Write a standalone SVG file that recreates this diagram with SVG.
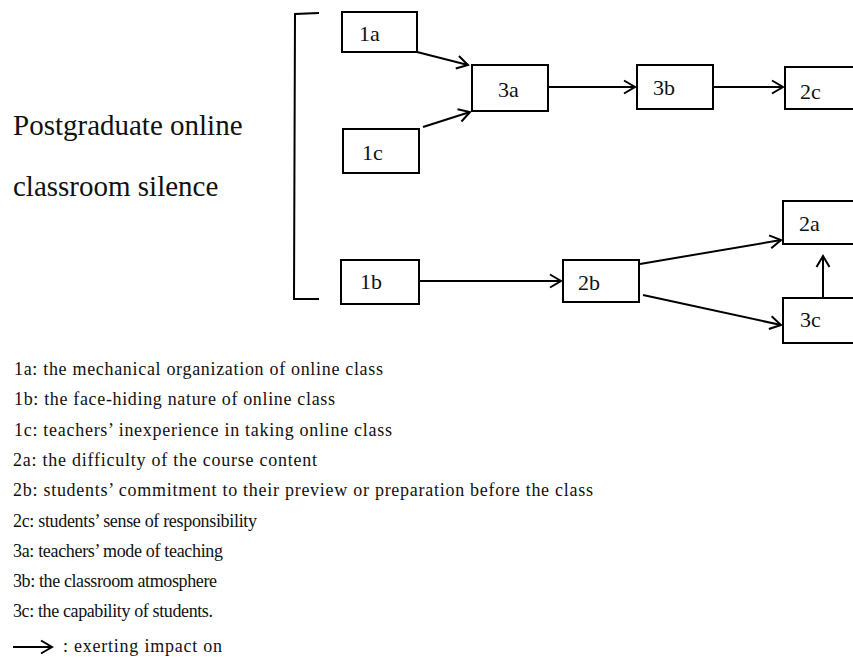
<svg xmlns="http://www.w3.org/2000/svg" width="853" height="658" viewBox="0 0 853 658">
<style>
.box{fill:#fff;stroke:#000;stroke-width:2}
.lbl{font-family:"Liberation Serif","Times New Roman",serif;font-size:22px;fill:#111}
.title{font-family:"Liberation Serif","Times New Roman",serif;font-size:29px;fill:#111}
.leg{font-family:"Liberation Serif","Times New Roman",serif;font-size:18px;fill:#111}
.con{stroke:#000;stroke-width:2;fill:none;marker-end:url(#ah)}
</style>
<defs>
<marker id="ah" markerUnits="userSpaceOnUse" markerWidth="16" markerHeight="16" viewBox="-12 -8 14 16" refX="0" refY="0" orient="auto">
<path d="M-11,-6.5 L0,0 L-11,6.5" fill="none" stroke="#000" stroke-width="2"/>
</marker>
</defs>
<rect width="853" height="658" fill="#fff"/>
<g id="title">
<text class="title" x="13" y="135">Postgraduate online</text>
<text class="title" x="13" y="196">classroom silence</text>
<path d="M319,13 L295,14 L294,299 L319,299" fill="none" stroke="#000" stroke-width="2"/>
</g>
<g id="n1a"><rect class="box" x="342" y="12" width="75" height="40"/><text class="lbl" x="359" y="41">1a</text></g>
<g id="n1c"><rect class="box" x="343" y="129" width="76" height="44"/><text class="lbl" x="362" y="160">1c</text></g>
<g id="n3a"><rect class="box" x="472" y="65" width="76" height="46"/><text class="lbl" x="498" y="97">3a</text></g>
<g id="n3b"><rect class="box" x="637" y="65" width="76" height="44"/><text class="lbl" x="653" y="95">3b</text></g>
<g id="n2c"><rect class="box" x="785" y="67" width="80" height="42"/><text class="lbl" x="800" y="99">2c</text></g>
<g id="n1b"><rect class="box" x="341" y="260" width="78" height="44"/><text class="lbl" x="360" y="289">1b</text></g>
<g id="n2b"><rect class="box" x="563" y="260" width="76" height="42"/><text class="lbl" x="578" y="290">2b</text></g>
<g id="n2a"><rect class="box" x="783" y="201" width="80" height="43"/><text class="lbl" x="799" y="231">2a</text></g>
<g id="n3c"><rect class="box" x="783" y="298" width="80" height="45"/><text class="lbl" x="800" y="327">3c</text></g>
<g id="connectors">
<line class="con" x1="417" y1="52" x2="468" y2="65"/>
<line class="con" x1="423" y1="127" x2="470" y2="112"/>
<line class="con" x1="548" y1="87" x2="635" y2="87"/>
<line class="con" x1="713" y1="87" x2="783" y2="87"/>
<line class="con" x1="419" y1="281" x2="561" y2="281"/>
<line class="con" x1="640" y1="264" x2="781" y2="240"/>
<line class="con" x1="643" y1="295" x2="781" y2="325"/>
<line class="con" x1="823" y1="297" x2="823" y2="256"/>
</g>
<g id="legend">
<text class="leg" x="14" y="375" textLength="369" lengthAdjust="spacing">1a: the mechanical organization of online class</text>
<text class="leg" x="14" y="405.3" textLength="321" lengthAdjust="spacing">1b: the face-hiding nature of online class</text>
<text class="leg" x="14" y="435.6" textLength="378" lengthAdjust="spacing">1c: teachers’ inexperience in taking online class</text>
<text class="leg" x="13" y="465.9" textLength="304" lengthAdjust="spacing">2a: the difficulty of the course content</text>
<text class="leg" x="13" y="496.2" textLength="580" lengthAdjust="spacing">2b: students’ commitment to their preview or preparation before the class</text>
<text class="leg" x="13" y="526.5" textLength="244" lengthAdjust="spacing">2c: students’ sense of responsibility</text>
<text class="leg" x="13" y="556.8" textLength="210" lengthAdjust="spacing">3a: teachers’ mode of teaching</text>
<text class="leg" x="13" y="587.1" textLength="204" lengthAdjust="spacing">3b: the classroom atmosphere</text>
<text class="leg" x="13" y="617.4" textLength="200" lengthAdjust="spacing">3c: the capability of students.</text>
<line class="con" x1="13" y1="647" x2="52" y2="647"/>
<text class="leg" x="63" y="652" textLength="159" lengthAdjust="spacing">: exerting impact on</text>
</g>
</svg>
